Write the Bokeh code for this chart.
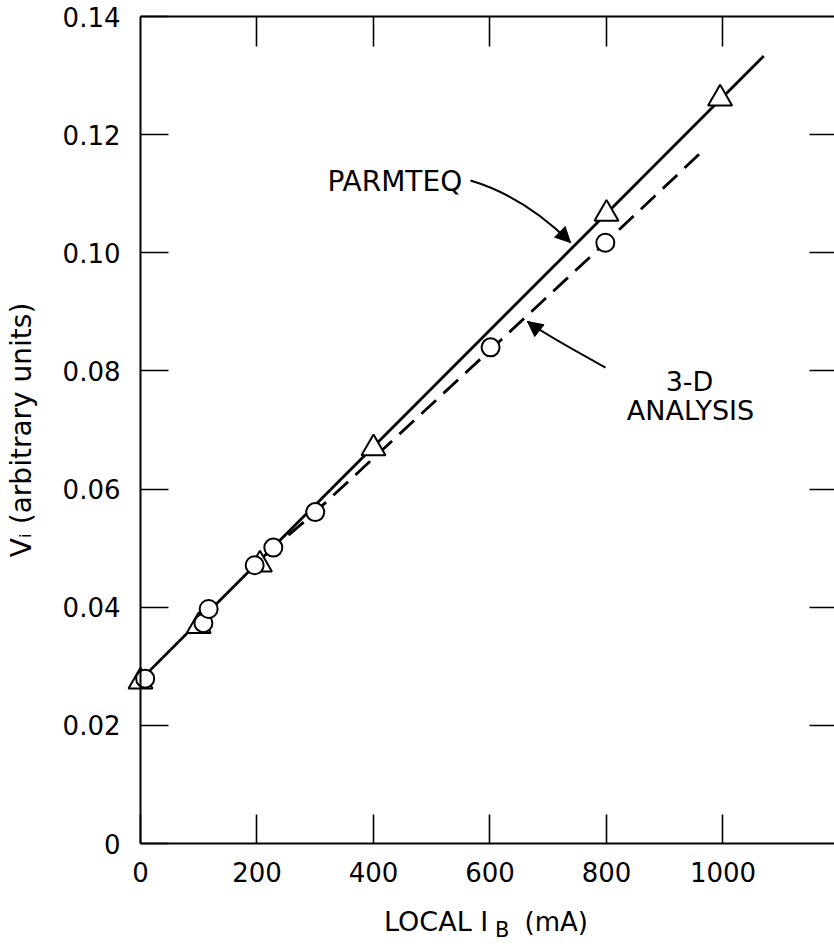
from bokeh.plotting import figure
from bokeh.models import (Range1d, LinearAxis, FixedTicker, Label, Arrow, NormalHead,
                          CustomLabelingPolicy)
from bokeh.embed import file_html
from bokeh.resources import INLINE

# ---- data ----
parm_x = [0, 100, 205, 400, 800, 995]
parm_y = [0.0274, 0.0368, 0.0472, 0.0669, 0.1066, 0.1261]
parm_line_x = [0, 1070]
parm_line_y = [0.0277, 0.1333]

td_x = [8, 108, 117, 196, 228, 300, 601, 798]
td_y = [0.0279, 0.0373, 0.0397, 0.0471, 0.0501, 0.0561, 0.0840, 0.1017]
td_line_x = [215, 300, 601, 798, 970]
td_line_y = [0.0489, 0.0561, 0.0836, 0.1017, 0.1177]

x_ticks = [0, 200, 400, 600, 800, 1000]
y_ticks = [0, 0.02, 0.04, 0.06, 0.08, 0.10, 0.12, 0.14]
y_tick_labels = ["0", "0.02", "0.04", "0.06", "0.08", "0.10", "0.12", "0.14"]

X_MAX = 1200
Y_MAX = 0.14

FONT = "DejaVu Sans"

# the frame covers the whole canvas; axes are pinned at data locations
p = figure(width=834, height=944, output_backend="svg", toolbar_location=None,
           x_range=Range1d(-240.34, 1191.42), y_range=Range1d(-0.017098, 0.14271),
           min_border=0, x_axis_location=None, y_axis_location=None)
p.outline_line_color = None
p.grid.visible = False
p.background_fill_color = "white"
p.border_fill_color = "white"

def hide_policy():
    return CustomLabelingPolicy(code="for (const i of indices) { indices.unset(i) } return indices")

def style_axis(ax, tick_in):
    ax.axis_line_color = "black"
    ax.axis_line_width = 2
    ax.major_tick_line_color = "black"
    ax.major_tick_line_width = 1.6
    ax.major_tick_in = tick_in
    ax.major_tick_out = 0
    ax.minor_tick_line_color = None

# bottom axis
xb = LinearAxis(ticker=FixedTicker(ticks=x_ticks), fixed_location=0, bounds=(0, X_MAX))
style_axis(xb, 29)
xb.major_label_text_font = FONT
xb.major_label_text_font_size = "26px"
xb.major_label_text_color = "black"
xb.major_label_standoff = 18
p.add_layout(xb, "below")

# top axis (ticks only)
xt = LinearAxis(ticker=FixedTicker(ticks=x_ticks[1:]), fixed_location=Y_MAX, bounds=(0, X_MAX))
style_axis(xt, 30)
xt.major_label_text_font_size = "1px"
xt.major_label_standoff = 0
xt.major_label_policy = hide_policy()
p.add_layout(xt, "above")

# left axis
yl = LinearAxis(ticker=FixedTicker(ticks=y_ticks), fixed_location=0, bounds=(0, Y_MAX))
style_axis(yl, 28)
yl.major_label_overrides = {t: l for t, l in zip(y_ticks, y_tick_labels)}
yl.major_label_text_font = FONT
yl.major_label_text_font_size = "26px"
yl.major_label_text_color = "black"
yl.major_label_standoff = 20
yl.axis_label = "V\u1d62 (arbitrary units)"
yl.axis_label_text_font = FONT
yl.axis_label_text_font_size = "28px"
yl.axis_label_text_font_style = "normal"
yl.axis_label_text_color = "black"
yl.axis_label_standoff = 22
p.add_layout(yl, "left")

# right axis (ticks only)
yr = LinearAxis(ticker=FixedTicker(ticks=y_ticks[1:-1]), fixed_location=X_MAX, bounds=(0, Y_MAX))
style_axis(yr, 30)
yr.major_label_text_font_size = "1px"
yr.major_label_standoff = 0
yr.major_label_policy = hide_policy()
p.add_layout(yr, "right")

# lines
p.line(parm_line_x, parm_line_y, line_color="black", line_width=2.8)
p.line(td_line_x, td_line_y, line_color="black", line_width=2.8, line_dash="20 10")

# markers
p.scatter(parm_x, parm_y, marker="triangle", size=24, fill_color="white",
          line_color="black", line_width=2)
p.scatter(td_x, td_y, marker="circle", size=18, fill_color="white",
          line_color="black", line_width=2)

# annotation curves and arrowheads
p.quadratic(x0=[566.5], y0=[0.11224], x1=[738.2], y1=[0.10174],
            cx=[659.7], cy=[0.10948], line_color="black", line_width=2)
p.add_layout(Arrow(end=NormalHead(size=15, fill_color="black", line_color="black"),
                   x_start=721.0, y_start=0.10343, x_end=738.2, y_end=0.10174,
                   line_color="black", line_width=2))
p.quadratic(x0=[798.3], y0=[0.08058], x1=[664.4], y1=[0.08837],
            cx=[688.4], cy=[0.08654], line_color="black", line_width=2)
p.add_layout(Arrow(end=NormalHead(size=15, fill_color="black", line_color="black"),
                   x_start=678.1, y_start=0.08732, x_end=664.4, y_end=0.08837,
                   line_color="black", line_width=2))

def txt(text, x, y, size, align="center", baseline="middle"):
    lab = Label(x=x, y=y, text=text, text_font=FONT, text_font_size=size,
                text_align=align, text_baseline=baseline, text_color="black")
    p.add_layout(lab)

txt("PARMTEQ", 321, 0.11207, "28px", align="left")
txt("3-D", 942.5, 0.07821, "27px")
txt("ANALYSIS", 944.2, 0.07322, "27px")

# x-axis title with subscript B
txt("LOCAL I", 597.0, -0.013205, "27px", align="right")
txt("B", 608.5, -0.014559, "21px", align="left")
txt("(mA)", 659.2, -0.013205, "26px", align="left")

open("out.html", "w").write(file_html(p, INLINE))
